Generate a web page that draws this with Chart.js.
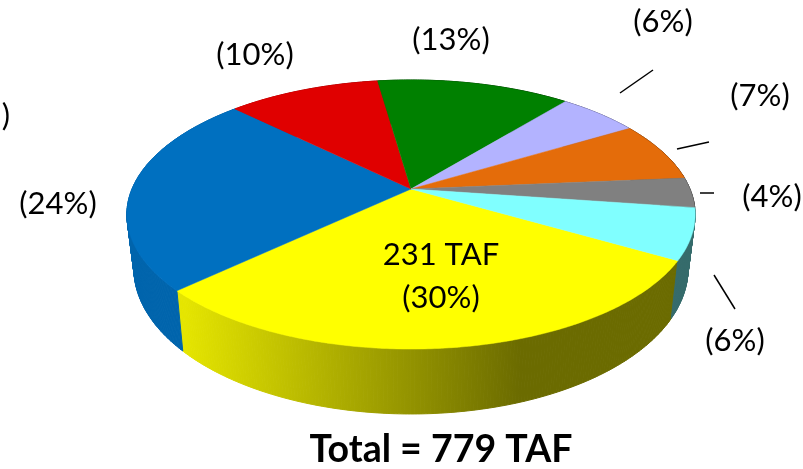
<!DOCTYPE html>
<html><head><meta charset="utf-8">
<style>html,body{margin:0;padding:0;background:#fff}canvas{display:block}</style>
<script src="https://cdn.jsdelivr.net/npm/chart.js@4"></script>
</head><body><canvas id="c" width="803" height="469"></canvas>
<script>
const shares = [29.7, 24.3, 10.4, 13.2, 5.5, 7.2, 3.6, 6.1];
const sliceColors = ['#ffff00','#0070c0','#e00000','#008000','#b3b3ff','#e46c0a','#808080','#80ffff'];
const labels = ['(30%)','(24%)','(10%)','(13%)','(6%)','(7%)','(4%)','(6%)'];
const labelX = [441, 58, 255, 451, 663, 760, 772, 735];
const labelY = [298, 204, 55, 40, 22, 96, 197, 341];
const leaders = [[620,93,653,70],[677,149,709,142],[700,193,714,193],[714,275,735,309]];
const totalLabel = 'Total = 779 TAF';

const APEX_X=411, APEX_Y=189, RX=279, RY=129.7, K=-0.1896;
function topPoint(t){const c=Math.cos(t),s=Math.sin(t),w=1+K*s;return [APEX_X+RX*c/w, APEX_Y+RY*s/w];}
function bottomPoint(p){return [APEX_X+(p[0]-APEX_X)*0.975, 1.08*p[1]+37];}
function dim(hex,f){
  const n=parseInt(hex.slice(1),16);
  return `rgb(${((n>>16)&255)*f|0},${((n>>8)&255)*f|0},${(n&255)*f|0})`;
}
function edge(a){
  const n=Math.ceil((a.endAngle-a.startAngle)/0.01), pts=[];
  for(let s=0;s<=n;s++) pts.push(topPoint(a.startAngle+(a.endAngle-a.startAngle)*s/n));
  return pts;
}
const pie3d = {
  id:'pie3d',
  beforeDatasetsDraw(chart){
    const ctx=chart.ctx, arcs=chart.getDatasetMeta(0).data;
    arcs.forEach((a,i)=>{
      const pts=edge(a), g=ctx.createLinearGradient(185,0,520,0);
      g.addColorStop(0,dim(sliceColors[i],0.9));
      g.addColorStop(1,dim(sliceColors[i],0.42));
      ctx.fillStyle=g;ctx.strokeStyle=g;ctx.lineWidth=1;
      for(let k=0;k<pts.length-1;k++){
        const p0=pts[k],p1=pts[k+1],b0=bottomPoint(p0),b1=bottomPoint(p1);
        ctx.beginPath();ctx.moveTo(p0[0],p0[1]);ctx.lineTo(p1[0],p1[1]);ctx.lineTo(b1[0],b1[1]);ctx.lineTo(b0[0],b0[1]);ctx.closePath();
        ctx.fill();ctx.stroke();
      }
    });
    arcs.forEach((a,i)=>{
      ctx.beginPath();ctx.moveTo(APEX_X,APEX_Y);
      edge(a).forEach(p=>ctx.lineTo(p[0],p[1]));
      ctx.closePath();
      ctx.fillStyle=sliceColors[i];ctx.strokeStyle=sliceColors[i];ctx.lineWidth=0.5;ctx.fill();ctx.stroke();
    });
    ctx.strokeStyle='#000';ctx.lineWidth=1.5;
    leaders.forEach(l=>{ctx.beginPath();ctx.moveTo(l[0],l[1]);ctx.lineTo(l[2],l[3]);ctx.stroke();});
    ctx.fillStyle='#000';ctx.textAlign='center';ctx.textBaseline='middle';
    ctx.font='31px Lato, Carlito, sans-serif';
    labels.forEach((t,i)=>ctx.fillText(t,labelX[i],labelY[i]));
    ctx.fillText('231 TAF',441,255);
    ctx.fillText(')',6,116);
    ctx.font='bold 37.5px Lato, Carlito, sans-serif';
    ctx.fillText(totalLabel,441,450);
    return false;
  }
};
new Chart(document.getElementById('c'),{
  type:'pie',
  data:{labels,datasets:[{data:shares,backgroundColor:sliceColors,borderWidth:0}]},
  options:{responsive:false,animation:false,rotation:120,
    plugins:{legend:{display:false},tooltip:{enabled:false}},events:[]},
  plugins:[pie3d]
});
</script></body></html>
